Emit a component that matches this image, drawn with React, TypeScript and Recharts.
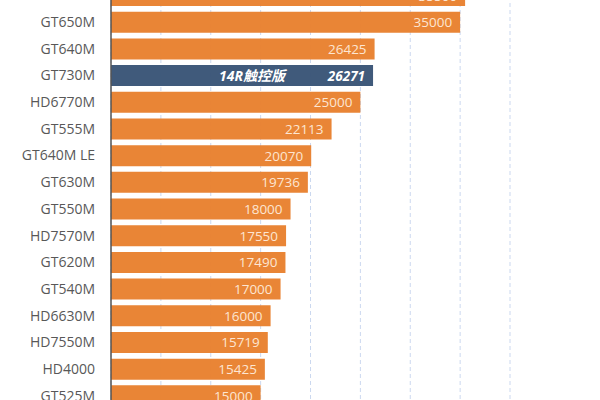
import React from 'react';
import { BarChart, Bar, XAxis, YAxis, CartesianGrid, Cell, LabelList } from 'recharts';

const gpus = [
  'GTX660M', 'GT650M', 'GT640M', 'GT730M', 'HD6770M', 'GT555M', 'GT640M LE', 'GT630M',
  'GT550M', 'HD7570M', 'GT620M', 'GT540M', 'HD6630M', 'HD7550M', 'HD4000', 'GT525M',
];
const scores = [
  35500, 35000, 26425, 26271, 25000, 22113, 20070, 19736,
  18000, 17550, 17490, 17000, 16000, 15719, 15425, 15000,
];
const highlightName = 'GT730M';
const highlightNote = '14R触控版';
const xTicks = [0, 5000, 10000, 15000, 20000, 25000, 30000, 35000, 40000];

const data = gpus.map((name, i) => ({ name, score: scores[i] }));

const ORANGE = '#e8812f';
const NAVY = '#3a5577';
const FONT = '"Segoe UI", "Open Sans", "Noto Sans CJK SC", sans-serif';

const ValueLabel = (props: any) => {
  const { x, y, width, height, value, index } = props;
  const hot = data[index].name === highlightName;
  const cy = y + height / 2;
  return (
    <g>
      {hot && (
        <text x={x + width / 2 + 10} y={cy} dy={5} textAnchor="middle" fill="#fff"
          fontSize={14} fontWeight="bold" fontStyle="italic" fontFamily={FONT}>
          {highlightNote}
        </text>
      )}
      <text x={x + width - 8} y={cy} dy={5} textAnchor="end"
        fill={hot ? '#fff' : '#fde6d2'} fontSize={13.5}
        fontWeight={hot ? 'bold' : 'normal'} fontStyle={hot ? 'italic' : 'normal'} fontFamily={FONT}>
        {value}
      </text>
    </g>
  );
};

export default function App() {
  return (
    <div style={{ position: 'fixed', left: 0, top: 0, width: 600, height: 400, overflow: 'hidden', background: '#fff' }}>
      <div style={{ position: 'absolute', left: 0, top: -18 }}>
        <BarChart
          width={600}
          height={427}
          data={data}
          layout="vertical"
          margin={{ top: 0, right: 90, left: 0, bottom: 0 }}
        >
          <CartesianGrid horizontal={false} strokeDasharray="4 3" stroke="#cbd8ef" />
          <XAxis type="number" hide domain={[0, 40000]} ticks={xTicks} />
          <YAxis
            type="category"
            dataKey="name"
            width={111}
            tickLine={false}
            tickSize={14}
            axisLine={{ stroke: '#555', strokeWidth: 1.5 }}
            tick={{ fill: '#585858', fontSize: 14, fontFamily: FONT }}
            interval={0}
          />
          <Bar dataKey="score" barSize={21} isAnimationActive={false} fillOpacity={0.97}>
            {data.map((d) => (
              <Cell key={d.name} fill={d.name === highlightName ? NAVY : ORANGE} />
            ))}
            <LabelList dataKey="score" content={ValueLabel} />
          </Bar>
        </BarChart>
      </div>
    </div>
  );
}
